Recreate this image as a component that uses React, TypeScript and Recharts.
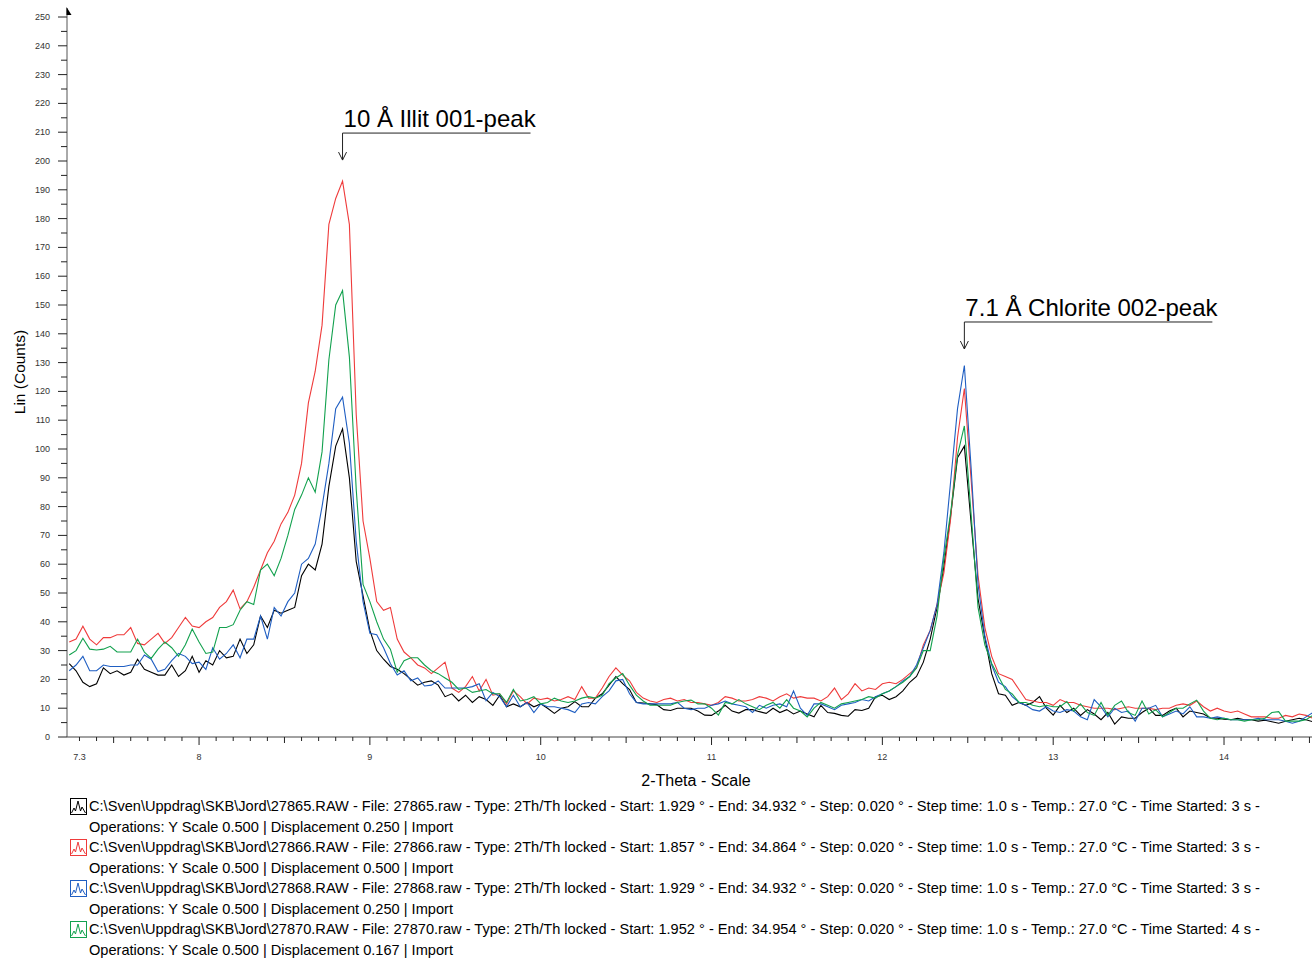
import React from "react";
import { LineChart, Line, XAxis, YAxis, ReferenceDot } from "recharts";

// scan grid: 7.24 .. 14.52 in 0.04° steps
const SCAN_START = 7.24;
const SCAN_STEP = 0.04;

const BLACK = [
  25.5, 23, 19, 17.5, 18.5, 24, 22, 23, 21.5, 22.5,
  27, 23.5, 22.5, 21.5, 21.5, 25, 21, 23, 28, 22.5,
  26.5, 25, 30, 27.5, 28, 34, 29, 32, 42, 38,
  44, 43, 44, 45, 56, 60, 58, 67, 87, 101,
  107, 90, 61, 49, 37, 30, 27, 24.5, 23.5, 22,
  20, 18, 19, 19.5, 18, 14, 15, 12.5, 14.5, 12,
  14, 13, 11, 14.5, 10.5, 11.5, 10.5, 12, 10.5, 11.5,
  10, 8.2, 10, 10.5, 12.3, 10.5, 10.5, 13.5, 15, 18,
  21, 18.5, 16.5, 12, 11.8, 11.5, 11.2, 9.5, 9.2, 10,
  10, 10, 9, 7.6, 7.5, 9, 11, 9, 8.3, 9.5,
  9.5, 8.8, 8.2, 10, 8.5, 9.5, 8, 9, 8, 7,
  11, 8.5, 8.2, 7.5, 7.2, 9.5, 9.2, 10, 14, 14.5,
  13, 14, 16, 19, 21, 26, 34, 45, 59, 77,
  97, 101, 74, 48, 34.5, 22, 15, 14.5, 11, 12,
  11, 12, 14, 10, 7.6, 11, 8.5, 10, 7.5, 9.5,
  8, 6, 8.5, 4.5, 7, 6.5, 6.5, 8.5, 10, 7.5,
  7.5, 9, 10, 7, 9, 8.5, 8, 6.6, 6.5, 6.2,
  6, 6.5, 6, 6, 5.5, 5.8, 5.3, 4.8, 5.5, 6,
  6.5, 6, 5.3,
];

const RED = [
  33, 34, 38.5, 34, 32, 34.5, 34.5, 35.5, 35.5, 38,
  32.5, 32, 34, 36, 32.5, 34.5, 38, 41.5, 38.5, 38,
  40, 41.5, 45, 47, 51, 44.5, 47, 52, 58, 64,
  68, 74, 78, 84, 95, 116, 127, 143, 178, 187,
  193, 178, 112, 75, 62, 47, 44, 45, 34, 29.5,
  27.5, 25, 24, 22, 24, 26, 17, 15.5, 17.5, 21,
  16, 20, 14.5, 15, 11.5, 16, 14, 11.5, 13.5, 13,
  13.5, 12.5, 13, 14, 13, 17.5, 13.5, 13.5, 17, 21,
  24, 21.5, 19.5, 15.5, 13.5, 12.5, 12, 13, 13.5, 12.5,
  13, 12, 12, 11.5, 11, 12, 14, 13.5, 12.5, 12.5,
  13, 14, 13.5, 12.5, 14, 15, 13.5, 14, 13.5, 13.5,
  12.5, 14, 17, 13, 15, 18.5, 16, 17, 16.5, 18.5,
  19, 18.5, 20, 22, 24, 32, 37, 46, 57, 76,
  104, 121, 89, 56, 38, 28, 22, 21, 20, 16.5,
  13, 12.5, 12, 12, 11, 13, 12, 12, 11, 10.5,
  10, 10, 10, 9.5, 10, 10.5, 10, 10, 10, 9.5,
  10, 10, 11, 11.5, 11, 12.5, 10.5, 9, 10, 9,
  8.5, 9, 8, 7, 7, 7, 6.5, 6.5, 7.5, 7,
  8, 7.5, 6.5,
];

const BLUE = [
  23, 25, 28, 23, 23, 25, 24.5, 24.5, 24.5, 25,
  25, 28.5, 27, 22.7, 23.5, 26.5, 29, 28, 25.5, 26,
  23.5, 31, 27, 29, 32, 27.5, 34, 34, 42, 34,
  45, 42, 47, 50, 60, 62, 67, 80, 95, 114,
  118, 102, 68, 47, 36, 35.5, 31, 25.5, 21.5, 23,
  19.5, 20.5, 17.7, 18, 19.5, 17, 17, 17, 17, 17.5,
  18.5, 12.6, 15.5, 14, 10.5, 14.5, 10.5, 12, 8.5, 11.5,
  10.5, 10.5, 10, 9.5, 8.5, 11.5, 12, 11.5, 14, 16,
  19.5, 20, 15, 12, 11.5, 11.5, 11.5, 11.5, 11.5, 12,
  10, 9.5, 10, 10, 11, 11.5, 12.5, 11.5, 11, 10.5,
  8.5, 11, 10, 11, 11.5, 10.5, 16, 10, 7.5, 11.5,
  11.5, 10.5, 9.5, 11, 11.5, 12, 13, 12.5, 14, 15,
  16, 17.5, 19.5, 21, 25, 31, 37, 46, 64, 89,
  114, 129, 93, 53, 35, 25, 19, 17.5, 14, 12,
  11, 9.5, 9, 10.5, 9, 8.5, 9.5, 9, 7, 6,
  13, 10.5, 7, 10, 8.5, 9, 5.5, 10, 10, 11,
  7, 8, 9, 8, 10.5, 7, 7, 6.5, 7, 6.5,
  6, 6, 6, 6, 6.5, 6, 6, 6, 5.5, 4.8,
  5.5, 7, 8.5,
];

const GREEN = [
  28.5, 30, 34.3, 30.5, 30.2, 30.5, 31.5, 29.5, 29.5, 29.5,
  34, 29.5, 27.3, 30.5, 33, 31, 28, 32, 37.5, 33,
  29, 29.5, 38, 38, 39, 44, 47, 46, 58, 60,
  56, 62, 70, 79, 84, 90, 85, 99, 131, 150,
  155, 132, 86, 53, 47, 40, 34, 30.5, 22.5, 26.5,
  27.5, 27.5, 25, 23, 22, 20.5, 19, 16.5, 17, 15.5,
  16, 16.5, 15, 15, 12, 16.5, 12.5, 13, 14, 11.5,
  12, 13.5, 12.5, 12, 12.5, 13.5, 14, 13.5, 14.5, 18.5,
  20.5, 22, 18, 14.5, 12.5, 11, 11, 11, 11, 12,
  12.5, 12.8, 11.5, 11.5, 10, 7.6, 12, 11.5, 13, 11.5,
  10.5, 9.5, 11, 12, 10, 13, 10, 9, 7, 10,
  12, 11, 10, 11.5, 12, 12.5, 13, 14, 13.5, 15,
  16, 17.5, 19, 21, 24, 30, 30, 42, 62, 78,
  98, 108, 77, 45, 32, 25.5, 21, 16.5, 15, 12,
  12, 11, 10.5, 11, 10.5, 10.5, 12.3, 9, 11.5, 8.5,
  7.5, 12, 7.5, 11, 12.5, 8.5, 7.5, 12.5, 8, 9.5,
  7, 8.5, 10, 10, 11.5, 12.8, 9, 6.5, 6, 6.5,
  6, 6, 5.5, 6, 6, 6.5, 8.5, 8.8, 5.5, 5.5,
  5.5, 6, 7.5,
];

const X_TICKS = Array.from({ length: 73 }, (_, i) => +(7.3 + i * 0.1).toFixed(1));
const X_LABELS = [7.3, 8, 9, 10, 11, 12, 13, 14];
const Y_TICKS = Array.from({ length: 51 }, (_, i) => i * 5);

const SCANS = [
  { key: "black", color: "#000000", file: "27865", start: "1.929", end: "34.932", started: "3", disp: "0.250" },
  { key: "red", color: "#ef3b3b", file: "27866", start: "1.857", end: "34.864", started: "3", disp: "0.500" },
  { key: "blue", color: "#1f5ec2", file: "27868", start: "1.929", end: "34.932", started: "3", disp: "0.250" },
  { key: "green", color: "#12a14e", file: "27870", start: "1.952", end: "34.954", started: "4", disp: "0.167" },
];

const FONT = "'Liberation Sans', Arial, sans-serif";

const rows = BLACK.map((_, i) => ({
  t: +(SCAN_START + i * SCAN_STEP).toFixed(2),
  black: BLACK[i],
  red: RED[i],
  blue: BLUE[i],
  green: GREEN[i],
}));

const XTick = (props: any) => {
  const { x, y, payload } = props;
  const v = payload.value;
  const isInt = Math.abs(v - Math.round(v)) < 1e-6;
  const isHalf = Math.abs(v * 2 - Math.round(v * 2)) < 1e-6;
  const len = isInt ? 8 : isHalf ? 6 : 4;
  const label = X_LABELS.some((l) => Math.abs(l - v) < 1e-6);
  return (
    <g>
      <line x1={x} x2={x} y1={y} y2={y + len} stroke="#222" />
      {label && (
        <text x={x} y={y + 23} textAnchor="middle" fontSize={9} fill="#333" fontFamily={FONT}>
          {v}
        </text>
      )}
    </g>
  );
};

const YTick = (props: any) => {
  const { x, y, payload } = props;
  const v = payload.value;
  const major = v % 10 === 0;
  return (
    <g>
      <line x1={x - (major ? 9 : 6)} x2={x} y1={y} y2={y} stroke="#222" />
      {major && (
        <text x={x - 17} y={y + 3} textAnchor="end" fontSize={9} fill="#333" fontFamily={FONT}>
          {v}
        </text>
      )}
      {v === 250 && (
        <g>
          <line x1={x} x2={x} y1={y} y2={y - 9} stroke="#555" />
          <polygon points={`${x - 0.5},${y - 10} ${x + 4.5},${y - 2} ${x - 0.5},${y - 2}`} fill="#000" />
        </g>
      )}
    </g>
  );
};

const peakNote = (text: string, lineLen: number) => (props: any) => {
  const { cx, cy } = props;
  return (
    <g>
      <text x={cx + 1} y={cy - 6} fontSize={24} fill="#000" fontFamily={FONT}>
        {text}
      </text>
      <line x1={cx} x2={cx + lineLen} y1={cy} y2={cy} stroke="#222" />
      <line x1={cx} x2={cx} y1={cy} y2={cy + 27} stroke="#222" />
      <polyline points={`${cx - 4},${cy + 19} ${cx},${cy + 27} ${cx + 4},${cy + 19}`} fill="none" stroke="#222" />
    </g>
  );
};

const ScanIcon = ({ color }: { color: string }) => (
  <svg width={17} height={17} style={{ position: "absolute", left: 0, top: 2 }}>
    <rect x={0.5} y={0.5} width={16} height={16} fill="#fff" stroke={color} />
    <polyline
      points="1.5,15 4,10 5.5,13 8,3 10.5,13 12,9 15.5,15"
      fill="none"
      stroke={color}
      strokeWidth={1}
    />
  </svg>
);

export default function App() {
  return (
    <div style={{ position: "absolute", left: 0, top: 0, width: 1312, height: 962, background: "#fff", fontFamily: FONT }}>
      <LineChart width={1312} height={770} data={rows} margin={{ top: 17, right: 0, bottom: 0, left: 0 }}>
        <XAxis
          dataKey="t"
          type="number"
          domain={[7.227, 14.515]}
          allowDataOverflow
          ticks={X_TICKS}
          interval={0}
          tick={(p: any) => <XTick {...p} />}
          tickLine={false}
          tickSize={0}
          tickMargin={0}
          axisLine={{ stroke: "#444" }}
          height={33}
        />
        <YAxis
          type="number"
          domain={[0, 250]}
          ticks={Y_TICKS}
          interval={0}
          tick={(p: any) => <YTick {...p} />}
          tickLine={false}
          tickSize={0}
          tickMargin={0}
          axisLine={{ stroke: "#555" }}
          width={67}
        />
        {SCANS.map((s) => (
          <Line
            key={s.key}
            dataKey={s.key}
            type="linear"
            stroke={s.color}
            strokeWidth={1.1}
            dot={false}
            activeDot={false}
            isAnimationActive={false}
          />
        ))}
        <ReferenceDot x={8.84} y={209.7} r={0} shape={peakNote("10 Å Illit 001-peak", 188)} />
        <ReferenceDot x={12.48} y={144.1} r={0} shape={peakNote("7.1 Å Chlorite 002-peak", 248)} />
      </LineChart>

      <div
        style={{
          position: "absolute",
          left: 20,
          top: 372,
          transform: "translate(-50%, -50%) rotate(-90deg)",
          fontSize: 15.5,
          whiteSpace: "nowrap",
          color: "#000",
        }}
      >
        Lin (Counts)
      </div>
      <div
        style={{
          position: "absolute",
          left: 696,
          top: 772,
          transform: "translateX(-50%)",
          fontSize: 16,
          lineHeight: "18px",
          whiteSpace: "nowrap",
        }}
      >
        2-Theta - Scale
      </div>

      <div style={{ position: "absolute", left: 70, top: 796, fontSize: 14.6, lineHeight: "20.57px", whiteSpace: "nowrap" }}>
        {SCANS.map((s) => (
          <div key={s.key}>
            <div style={{ position: "relative", paddingLeft: 19 }}>
              <ScanIcon color={s.color} />
              {`C:\\Sven\\Uppdrag\\SKB\\Jord\\${s.file}.RAW - File: ${s.file}.raw - Type: 2Th/Th locked - Start: ${s.start} ° - End: ${s.end} ° - Step: 0.020 ° - Step time: 1.0 s - Temp.: 27.0 °C - Time Started: ${s.started} s -`}
            </div>
            <div style={{ paddingLeft: 19 }}>{`Operations: Y Scale 0.500 | Displacement ${s.disp} | Import`}</div>
          </div>
        ))}
      </div>
    </div>
  );
}
